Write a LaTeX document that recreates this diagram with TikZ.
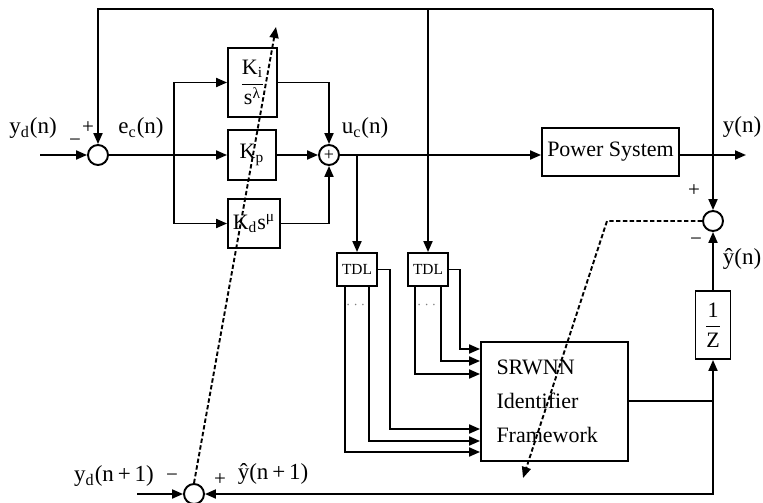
\documentclass[tikz,border=0pt]{standalone}
\usepackage{fontspec}
\setmainfont{Liberation Serif}
\usepackage{amsmath}
\usetikzlibrary{arrows.meta}
\newcommand{\lo}[1]{$_\text{#1}$}
\newcommand{\hi}[1]{$^\text{#1}$}

\begin{document}
\begin{tikzpicture}[x=0.5pt, y=-0.5pt, line width=0.95pt,
    >={Triangle[length=5.5pt,width=4.5pt]},
    blk/.style={draw, inner sep=0pt, font=\fontsize{11}{13}\selectfont},
    sumc/.style={draw, circle, minimum size=10pt, inner sep=0pt},
    lbl/.style={inner sep=0pt, font=\fontsize{11.5}{13}\selectfont},
    sgn/.style={inner sep=0pt, font=\fontsize{10.5}{11}\selectfont},
    tdl/.style={draw, inner sep=0pt, minimum width=20pt, minimum height=16.5pt, font=\fontsize{7.7}{9}\selectfont},
    dsh/.style={dash pattern=on 2.2pt off 1.2pt}]
\useasboundingbox (0,0) rectangle (763,502);

% Fixed coordinates
\coordinate (in1) at (40,155);
\coordinate (tl) at (98,9);
\coordinate (tr) at (713,9);
\coordinate (br) at (174,155);
\coordinate (out) at (746,155);
\coordinate (jn) at (713,401);
\coordinate (in4) at (137,494);
\coordinate (tip1) at (276,27);
\coordinate (bend) at (607,221);
\coordinate (tip2) at (523,478);

% Summing junctions
\node (s1) at (98,155) [sumc] {};
\node (s2) at (329,155) [sumc] {\fontsize{9}{9}\selectfont +};
\node (s3) at (713,221) [sumc] {};
\node (s4) at (194,494) [sumc] {};

% Blocks
\node (ki) at (252.5,82.5) [blk, minimum width=24.5pt, minimum height=34.5pt] {$\dfrac{\text{K}_\text{i}}{\text{s}^\text{λ}}$};
\node (kp) at (252,155) [blk, minimum width=24pt, minimum height=25pt] {K\lo{p}};
\node (kd) at (254,223.5) [blk, minimum width=26pt, minimum height=24.5pt] {K\lo{d}s\hi{μ}};
\node (pw) at (610.5,152) [blk, minimum width=68.5pt, minimum height=24pt] {Power System};
\node (tdl1) at (357,269.5) [tdl] {TDL};
\node (tdl2) at (428,269.5) [tdl] {TDL};
\node (nn) at (554.5,401.5) [blk, minimum width=73.5pt, minimum height=59.5pt, align=left, text width=58pt, font=\fontsize{11}{17}\selectfont] {SRWNN\\Identifier\\Framework};
\node (dz) at (713,325) [blk, minimum width=17.5pt, minimum height=34pt] {$\dfrac{\text{1}}{\text{Z}}$};

% Delay taps
\node (dt1) at (357,305) [text=gray, font=\scriptsize] {$\cdots$};
\node (dt2) at (428,305) [text=gray, font=\scriptsize] {$\cdots$};

% Labels
\node (lyd) at (33,128) [lbl] {y\lo{d}(n)};
\node (lp1) at (88,128) [sgn] {+};
\node (lm1) at (75,143) [sgn] {−};
\node (lec) at (141,128) [lbl] {e\lo{c}(n)};
\node (luc) at (365,128) [lbl] {u\lo{c}(n)};
\node (ly) at (742,127) [lbl] {y(n)};
\node (lp3) at (694,191) [sgn] {+};
\node (lm3) at (696,242) [sgn] {−};
\node (lyh) at (742,259) [lbl] {ŷ(n)};
\node (lyd1) at (114,476) [lbl] {y\lo{d}(n\,+\,1)};
\node (lm4) at (172,478) [sgn] {−};
\node (lp4) at (220,480) [sgn] {+};
\node (lyh1) at (273,474) [lbl] {ŷ(n\,+\,1)};

% Controller
\draw[->] (in1) -- (s1);
\draw[->] (tr) -- (tl) -- (s1);
\draw (s1) -- (br);
\draw[->] (br) -- (kp);
\draw[->] (br) |- (ki);
\draw[->] (br) |- (kd);
\draw[->] (ki) -| (s2);
\draw[->] (kp) -- (s2);
\draw[->] (kd) -| (s2);
\draw[->] (s2) -- (s2 -| pw.west);
\draw[->] (pw.east |- s2) -- (out);

% Identifier
\draw[->] (tr) -- (s3);
\draw[->] (tdl2 |- tr) -- (tdl2);
\draw[->] (tdl1 |- s2) -- (tdl1);
\draw[->] (tdl1.east) -- ++(12,0) |- (nn.west |- 0,429);
\draw[->] ([xshift=6pt]tdl1.south) |- (nn.west |- 0,441);
\draw[->] ([xshift=-6pt]tdl1.south) |- (nn.west |- 0,452);
\draw[->] (tdl2.east) -- ++(11,0) |- (nn.west |- 0,349);
\draw[->] ([xshift=6.5pt]tdl2.south) |- (nn.west |- 0,361);
\draw[->] ([xshift=-6.5pt]tdl2.south) |- (nn.west |- 0,374);
\draw (nn.east |- jn) -- (jn);
\draw[->] (jn) -- (dz);
\draw[->] (dz) -- (s3);
\draw[->] (jn) |- (s4);
\draw[->] (in4) -- (s4);

% Tuning paths
\draw[->, dsh] (s4.north) -- (tip1);
\draw[->, dsh] (s3.west) -- (bend) -- (tip2);
\end{tikzpicture}
\end{document}
